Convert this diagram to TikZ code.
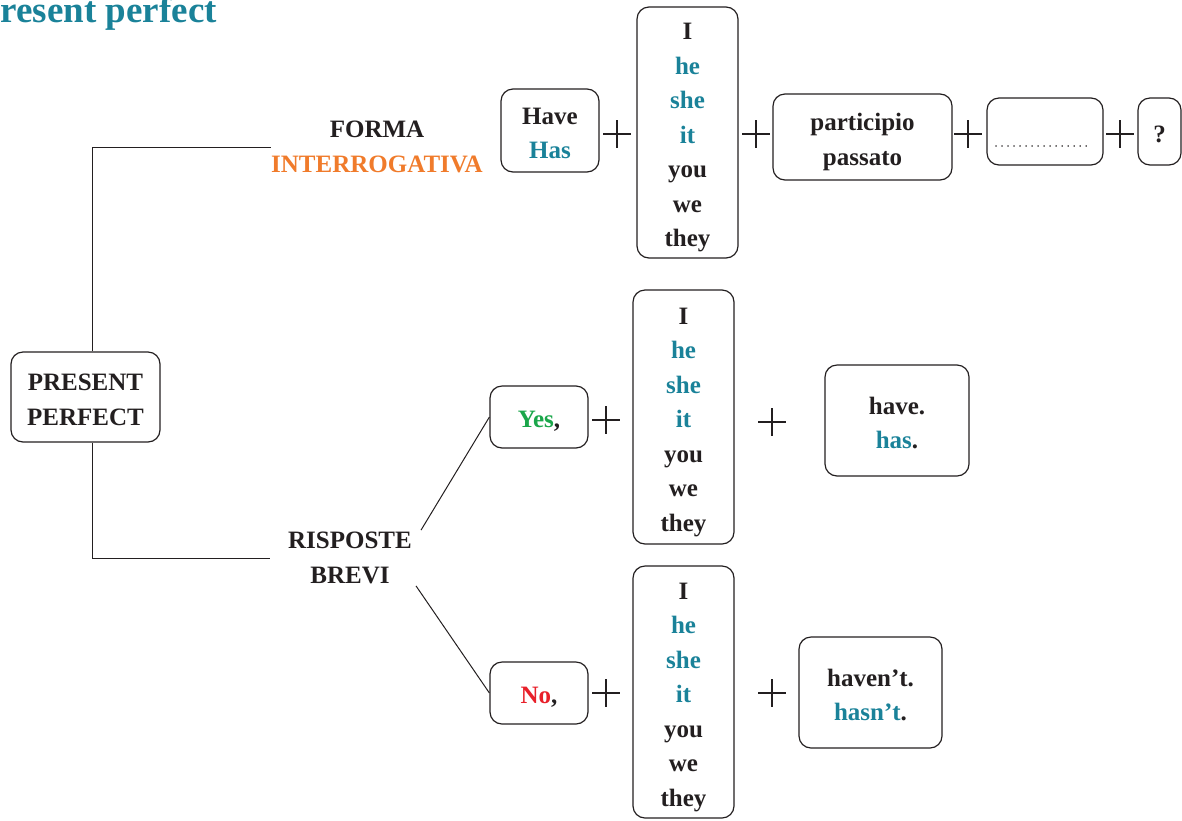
\documentclass[tikz,border=0pt]{standalone}
\usepackage{fontspec}
\newfontfamily\lib{Liberation Serif}
\definecolor{myteal}{HTML}{1A8299}
\definecolor{myorange}{HTML}{F07B2B}
\definecolor{mygreen}{HTML}{1AA64A}
\definecolor{myred}{HTML}{E8202A}
\definecolor{txtblack}{HTML}{231F20}
\newcommand\tcol[1]{\textcolor{myteal}{#1}}
\newcommand\cel[1]{\raisebox{0pt}[\dimexpr\height+8pt\relax][\depth]{\begin{tabular}{@{}c@{}}#1\end{tabular}}}
\begin{document}
\begin{tikzpicture}[x=1pt,y=-1pt,
  box/.style={draw=txtblack, rounded corners=12pt, line width=1.2pt, inner sep=0pt,
    font=\lib\bfseries\fontsize{25}{34.5}\selectfont, text=txtblack},
  lbl/.style={inner sep=0pt, align=center, font=\lib\bfseries\fontsize{25}{34.5}\selectfont, text=txtblack},
  plussign/.style={inner sep=0pt, minimum size=27pt},
  plusline/.style={draw=txtblack, line width=2pt},
  conn/.style={draw=txtblack, line width=1pt}]
\useasboundingbox (0,0) rectangle (1182,820);

\node[anchor=base east, text=myteal, inner sep=0pt, font=\lib\bfseries\fontsize{37}{37}\selectfont] (title) at (217,22) {Present perfect};

% root
\node[box, minimum width=149, minimum height=90] (pp) at (85.5,397) {\cel{PRESENT\\PERFECT}};
\node[lbl] (forma) at (377,147) {FORMA\\\textcolor{myorange}{INTERROGATIVA}};
\node[lbl, inner xsep=18pt, inner ysep=2pt] (risp) at (350,558) {RISPOSTE\\BREVI};

% top row
\node[box, minimum width=98, minimum height=83] (have) at (550,130.5) {\cel{Have\\\tcol{Has}}};
\node[plussign] (pl1) at (617,134) {};
\node[box, minimum width=101, minimum height=251] (pr1) at (687.5,132.5) {\cel{I\\\tcol{he}\\\tcol{she}\\\tcol{it}\\you\\we\\they}};
\node[plussign] (pl2) at (756,134) {};
\node[box, minimum width=179, minimum height=86] (part) at (862.5,137) {\cel{participio\\passato}};
\node[plussign] (pl3) at (968,134) {};
\node[box, minimum width=116, minimum height=67] (dots) at (1045,131.5) {};
\node[plussign] (pl4) at (1120,134) {};
\node[box, minimum width=43, minimum height=67] (qm) at (1159.5,131.5) {\cel{?}};
\coordinate (d1) at (996,146);
\coordinate (d2) at (1092,146);
\draw[txtblack, line width=1.5pt, dash pattern=on 0.01pt off 6pt, line cap=round] (d1) -- (d2);

% middle row
\node[box, minimum width=98, minimum height=62] (yes) at (539,417) {\cel{\textcolor{mygreen}{Yes},}};
\node[plussign] (pl5) at (606,420) {};
\node[box, minimum width=101, minimum height=254] (pr2) at (683.5,417) {\cel{I\\\tcol{he}\\\tcol{she}\\\tcol{it}\\you\\we\\they}};
\node[plussign] (pl6) at (772,422) {};
\node[box, minimum width=144, minimum height=111] (has) at (897,420.5) {\cel{have.\\\tcol{has}.}};

% bottom row
\node[box, minimum width=98, minimum height=62] (no) at (539,693) {\cel{\textcolor{myred}{No},}};
\node[plussign] (pl7) at (606,693) {};
\node[box, minimum width=101, minimum height=252] (pr3) at (683.5,692) {\cel{I\\\tcol{he}\\\tcol{she}\\\tcol{it}\\you\\we\\they}};
\node[plussign] (pl8) at (772,693) {};
\node[box, minimum width=143, minimum height=111] (hasnt) at (870.5,692.5) {\cel{haven’t.\\\tcol{hasn’t}.}};

% plus signs
\foreach \p in {pl1,pl2,pl3,pl4,pl5,pl6,pl7,pl8}
  \draw[plusline] (\p.north) -- (\p.south) (\p.west) -- (\p.east);

% connectors
\draw[conn] ([xshift=7pt]pp.north) |- (forma.west);
\draw[conn] ([xshift=7pt]pp.south) |- (risp.west);
\draw[conn] ([xshift=-9pt]risp.north east) -- (yes.west);
\draw[conn] ([xshift=-14pt]risp.south east) -- (no.west);
\end{tikzpicture}
\end{document}
